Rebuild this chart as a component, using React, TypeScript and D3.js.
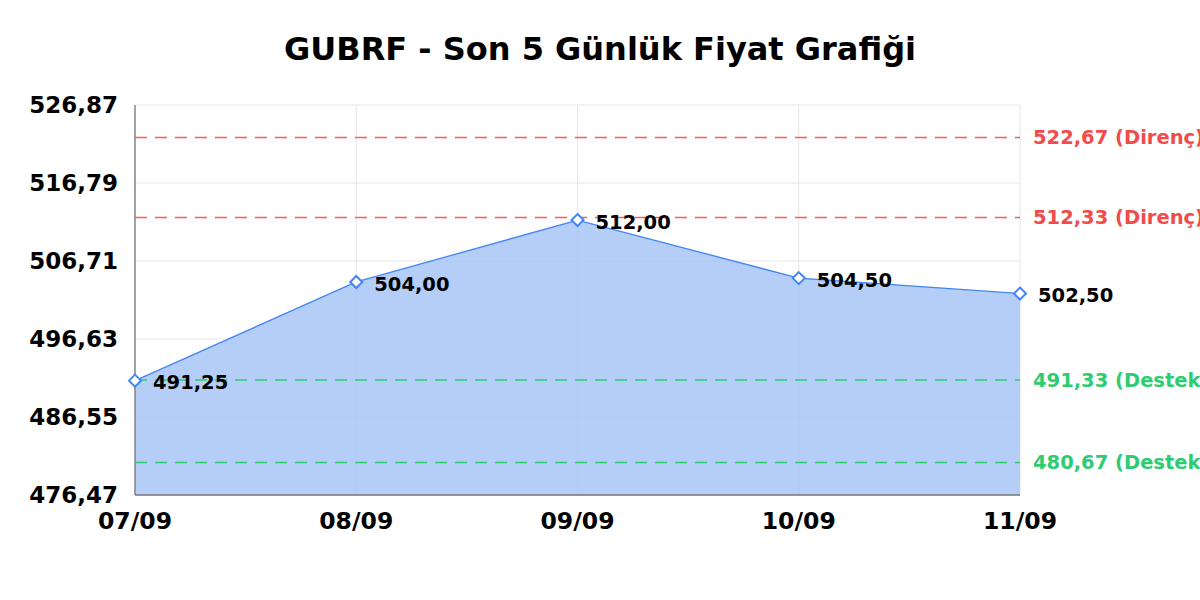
import * as d3 from "d3";

const dates = ["07/09", "08/09", "09/09", "10/09", "11/09"];
const prices = [491.25, 504.0, 512.0, 504.5, 502.5];
const yTicks = [476.47, 486.55, 496.63, 506.71, 516.79, 526.87];
const resistance = [522.67, 512.33];
const support = [491.33, 480.67];

const width = 1200;
const height = 600;
const marginTop = 105;
const marginRight = 180;
const marginBottom = 105;
const marginLeft = 135;

const fmt = (v: number) => v.toFixed(2).replace(".", ",");
const font = "'DejaVu Sans', sans-serif";

export default function App() {
  const x = d3
    .scalePoint<string>()
    .domain(dates)
    .range([marginLeft, width - marginRight]);
  const y = d3
    .scaleLinear()
    .domain([yTicks[0], yTicks[yTicks.length - 1]])
    .range([height - marginBottom, marginTop]);

  const pts: [number, number][] = dates.map((d, i) => [x(d)!, y(prices[i])]);
  const line = d3.line();
  const area = d3
    .area<[number, number]>()
    .x((d) => d[0])
    .y0(height - marginBottom)
    .y1((d) => d[1]);

  const levels = [
    ...resistance.map((v) => ({ v, color: "#ff5a5a", text: "Direnç", tc: "#f24b4b" })),
    ...support.map((v) => ({ v, color: "#2ecc71", text: "Destek", tc: "#2ecc71" })),
  ];

  return (
    <svg
      width={width}
      height={height}
      style={{ position: "absolute", left: 0, top: 0, background: "#fff" }}
      fontFamily={font}
    >
      <text
        x={width / 2}
        y={60}
        textAnchor="middle"
        fontSize={32}
        fontWeight="bold"
        fill="#000"
      >
        GUBRF - Son 5 Günlük Fiyat Grafiği
      </text>

      {/* grid */}
      <g stroke="#e6e6e6" strokeWidth={1}>
        {yTicks.map((t) => (
          <line key={t} x1={marginLeft} x2={width - marginRight} y1={y(t)} y2={y(t)} />
        ))}
        {dates.map((d) => (
          <line key={d} x1={x(d)} x2={x(d)} y1={marginTop} y2={height - marginBottom} />
        ))}
      </g>

      <path d={area(pts)!} fill="#a8c5f6" fillOpacity={0.85} />
      <path d={line(pts)!} fill="none" stroke="#4285f4" strokeWidth={1.3} />

      {/* axes */}
      <line
        x1={marginLeft}
        x2={marginLeft}
        y1={marginTop}
        y2={height - marginBottom}
        stroke="#777"
        strokeWidth={1.3}
      />
      <line
        x1={marginLeft}
        x2={width - marginRight}
        y1={height - marginBottom}
        y2={height - marginBottom}
        stroke="#777"
        strokeWidth={1.3}
      />

      {yTicks.map((t) => (
        <text
          key={t}
          x={marginLeft - 17}
          y={y(t)}
          dy="0.35em"
          textAnchor="end"
          fontSize={23}
          fontWeight="bold"
          fill="#000"
        >
          {fmt(t)}
        </text>
      ))}
      {dates.map((d) => (
        <text
          key={d}
          x={x(d)}
          y={height - marginBottom + 34}
          textAnchor="middle"
          fontSize={23.5}
          fontWeight="bold"
          fill="#000"
        >
          {d}
        </text>
      ))}

      {/* support / resistance */}
      {levels.map((l) => (
        <g key={l.v}>
          <line
            x1={marginLeft}
            x2={width - marginRight}
            y1={y(l.v)}
            y2={y(l.v)}
            stroke={l.color}
            strokeWidth={1.6}
            strokeDasharray="12,8"
          />
          <text
            x={width - marginRight + 13}
            y={y(l.v)}
            dy="0.35em"
            fontSize={19.5}
            fontWeight="bold"
            fill={l.tc}
          >
            {`${fmt(l.v)} (${l.text})`}
          </text>
        </g>
      ))}

      {/* markers */}
      {pts.map(([px, py], i) => (
        <g key={i}>
          <path
            d={`M${px},${py - 6}L${px + 6},${py}L${px},${py + 6}L${px - 6},${py}Z`}
            fill="#fff"
            stroke="#4285f4"
            strokeWidth={2}
          />
          <text
            x={px + 18}
            y={py + 2}
            dy="0.35em"
            fontSize={19.5}
            fontWeight="bold"
            fill="#000"
          >
            {fmt(prices[i])}
          </text>
        </g>
      ))}
    </svg>
  );
}
